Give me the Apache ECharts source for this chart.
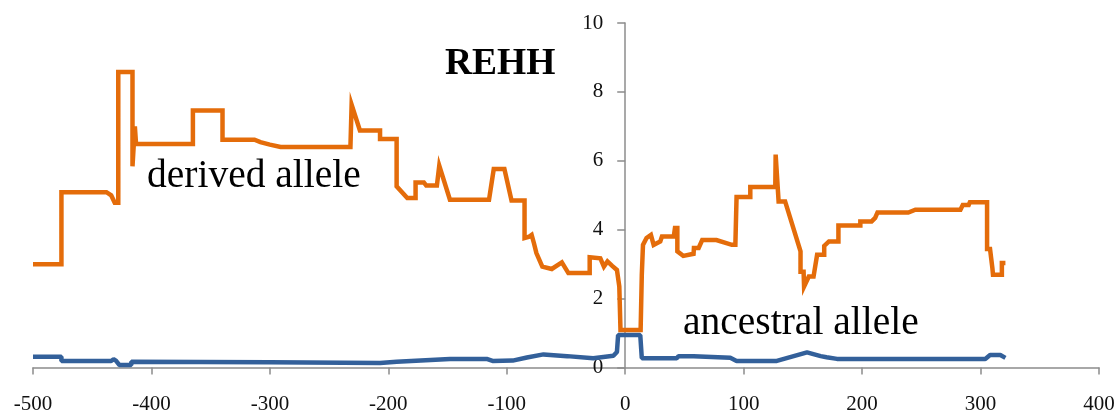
<!DOCTYPE html>
<html>
<head>
<meta charset="utf-8">
<script src="https://cdn.jsdelivr.net/npm/echarts@6/dist/echarts.min.js"></script>
<style>
html,body{margin:0;padding:0;background:#fff;}
#chart{width:1118px;height:413px;}
</style>
</head>
<body>
<div id="chart"></div>
<script>
// Positions (kb) and REHH values
const derivedX = [-500,-476,-476,-438,-434,-431,-428,-428,-416,-416,-414,-413,-365,-365,-340,-340,-313,-308,-300,-291,-232,-231,-224,-207,-207,-193,-193,-184,-177,-177,-170,-168,-159,-157,-148,-115,-111,-102,-96,-85,-85,-81,-79,-77,-75,-70,-62,-53.5,-48,-30,-30,-21,-18,-15,-11,-7,-5,-4,13,14,15,18,21.7,24,29.6,31,41,42,44,44,49,57.7,58,62,65,77,90,93,94,105.6,105.6,126.7,127,129.5,135,148,148,150.6,151,155,159,162,168,168,172,180,180,198.5,198.5,208,211,213,239,245,283,285,290,291,305.5,305.5,308,310,310.5,318,318,321];
const derivedY = [3.0,3.0,5.09,5.09,5.0,4.78,4.78,8.58,8.58,5.84,7.0,6.49,6.49,7.46,7.46,6.61,6.61,6.54,6.47,6.4,6.4,7.63,6.88,6.88,6.63,6.63,5.26,4.92,4.92,5.37,5.37,5.28,5.28,5.86,4.87,4.87,5.76,5.76,4.85,4.85,3.76,3.8,3.85,3.6,3.32,2.93,2.86,3.05,2.74,2.74,3.2,3.17,2.93,3.08,2.95,2.83,2.35,1.09,1.09,2.7,3.56,3.76,3.85,3.56,3.66,3.8,3.8,4.05,4.05,3.37,3.24,3.3,3.47,3.47,3.7,3.7,3.56,3.56,4.95,4.95,5.24,5.24,6.18,4.82,4.82,3.37,2.78,2.78,2.35,2.64,2.64,3.27,3.27,3.53,3.66,3.66,4.12,4.12,4.24,4.24,4.34,4.5,4.5,4.58,4.58,4.72,4.72,4.8,4.8,3.44,3.44,2.88,2.69,2.69,3.03,3.03];
const ancestralX = [-500,-476,-476,-434,-432,-430,-427,-417,-417,-300,-207,-193,-148,-117,-112,-95,-83,-69,-49,-27,-10,-7,-6,12.7,14,43.6,45,57.7,59,88.7,94,128,153.5,165,170,178.8,304,308,316.7,321];
const ancestralY = [0.31,0.31,0.19,0.19,0.24,0.2,0.07,0.07,0.17,0.15,0.13,0.17,0.25,0.25,0.19,0.2,0.29,0.38,0.33,0.27,0.34,0.45,0.94,0.94,0.27,0.27,0.33,0.33,0.28,0.28,0.19,0.19,0.44,0.33,0.3,0.25,0.25,0.36,0.36,0.28];
const xTicks = [-500,-400,-300,-200,-100,0,100,200,300,400];
const yTicks = [0,2,4,6,8,10];
const titleText = 'REHH';
const derivedLabel = 'derived allele';
const ancestralLabel = 'ancestral allele';

const pairs = (xs, ys) => xs.map((x, i) => [x, ys[i]]);
const serif = '"Liberation Serif","DejaVu Serif",serif';

const W = 1118, gridLeft = 33, gridRight = 19;
const xMin = xTicks[0], xMax = xTicks[xTicks.length - 1];
// shift the y axis from the grid's left edge to x = 0
const yAxisOffset = -((0 - xMin) / (xMax - xMin)) * (W - gridLeft - gridRight);

const chart = echarts.init(document.getElementById('chart'));
chart.setOption({
  animation: false,
  backgroundColor: '#ffffff',
  grid: {left: gridLeft, right: gridRight, top: 23, bottom: 45.5, containLabel: false, outerBoundsMode: 'none'},
  xAxis: {
    type: 'value', min: xMin, max: xMax, interval: 100,
    axisLine: {onZero: true, lineStyle: {color: '#8c8c8c', width: 1.5}},
    axisTick: {show: true, length: 7, lineStyle: {color: '#8c8c8c', width: 1.5}},
    axisLabel: {margin: 26, color: '#111', fontFamily: serif, fontSize: 21},
    splitLine: {show: false}
  },
  yAxis: {
    type: 'value', position: 'left', offset: yAxisOffset,
    min: yTicks[0], max: yTicks[yTicks.length - 1], interval: 2,
    axisLine: {show: true, onZero: false, lineStyle: {color: '#8c8c8c', width: 1.5}},
    axisTick: {show: true, length: 8, lineStyle: {color: '#8c8c8c', width: 1.5}},
    axisLabel: {margin: 22, color: '#111', fontFamily: serif, fontSize: 21},
    splitLine: {show: false}
  },
  series: [
    {
      name: derivedLabel, type: 'line', data: pairs(derivedX, derivedY),
      showSymbol: false, symbol: 'none', z: 3,
      lineStyle: {color: '#E46C0A', width: 4.5, join: 'miter'}
    },
    {
      name: ancestralLabel, type: 'line', data: pairs(ancestralX, ancestralY),
      showSymbol: false, symbol: 'none', z: 2,
      lineStyle: {color: '#33609A', width: 4.5}
    }
  ],
  graphic: [
    {type: 'text', left: 445, top: 45, style: {text: titleText, font: 'bold 37.5px ' + serif, fill: '#000'}},
    {type: 'text', left: 147, top: 157, style: {text: derivedLabel, font: '39.5px ' + serif, fill: '#000'}},
    {type: 'text', left: 683, top: 304, style: {text: ancestralLabel, font: '39.5px ' + serif, fill: '#000'}}
  ]
});
</script>
</body>
</html>
